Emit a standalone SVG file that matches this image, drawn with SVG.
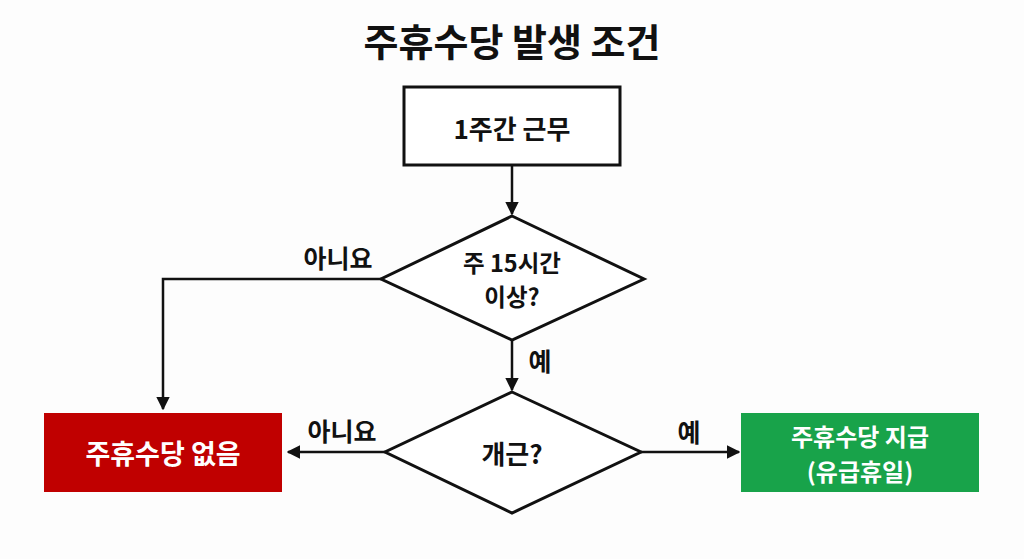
<svg xmlns="http://www.w3.org/2000/svg" width="1024" height="559" viewBox="0 0 1024 559">
<style>
text{font-family:"Noto Sans CJK KR","Noto Sans",sans-serif;font-weight:bold;text-anchor:middle;dominant-baseline:central}
.t{font-size:38px;fill:#111}
.n{font-size:26px;fill:#111}
.n2{font-size:23.5px;fill:#111}
.w{font-size:27px;fill:#fff}
.w2{font-size:24px;fill:#fff}
.l{font-size:25px;fill:#111}
.shape{fill:#fff;stroke:#111;stroke-width:3}
.c{fill:none;stroke:#111;stroke-width:2.5}
</style>
<defs>
<marker id="ah" viewBox="0 0 10 10" refX="9" refY="5" markerWidth="5.5" markerHeight="5.5" markerUnits="strokeWidth" orient="auto">
<path d="M0,0 L10,5 L0,10 Z" fill="#111"/>
</marker>
</defs>
<rect width="1024" height="559" fill="#fdfdfd"/>
<text class="t" x="512" y="39">주휴수당 발생 조건</text>
<g id="connectors">
<path class="c" d="M512,165 V214" marker-end="url(#ah)"/>
<path class="c" d="M381,279 H163 V409" marker-end="url(#ah)"/>
<path class="c" d="M512,340 V390" marker-end="url(#ah)"/>
<path class="c" d="M385,452 H288" marker-end="url(#ah)"/>
<path class="c" d="M641,452 H739" marker-end="url(#ah)"/>
<text class="l" x="338" y="257">아니요</text>
<text class="l" x="540" y="360">예</text>
<text class="l" x="342" y="430">아니요</text>
<text class="l" x="689" y="431">예</text>
</g>
<g id="start">
<rect class="shape" x="404" y="87" width="216" height="78"/>
<text class="n" x="512" y="127">1주간 근무</text>
</g>
<g id="d1">
<polygon class="shape" points="512,216 644,279 512,340 381,279"/>
<text class="n2" x="512" y="262">주 15시간</text>
<text class="n2" x="512" y="296">이상?</text>
</g>
<g id="d2">
<polygon class="shape" points="512,392 641,452 512,513 385,452"/>
<text class="n" x="512" y="452">개근?</text>
</g>
<g id="no">
<rect x="44" y="413" width="238" height="79" fill="#c00000"/>
<text class="w" x="163" y="452">주휴수당 없음</text>
</g>
<g id="yes">
<rect x="741" y="413" width="238" height="79" fill="#18a34a"/>
<text class="w2" x="860" y="435">주휴수당 지급</text>
<text class="w2" x="860" y="470">(유급휴일)</text>
</g>
</svg>
